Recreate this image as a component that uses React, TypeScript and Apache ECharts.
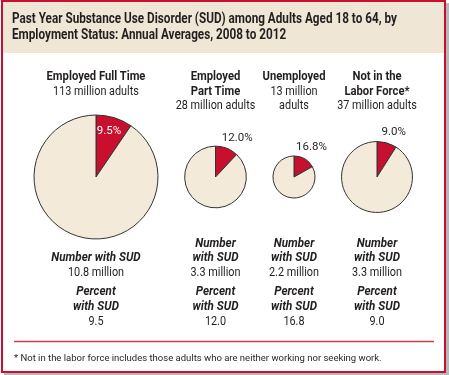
import React, { useEffect, useRef } from "react";
import * as echarts from "echarts";

// ---- data ----
const groups = ["Employed Full Time", "Employed Part Time", "Unemployed", "Not in the Labor Force"];
const headingLines = [
  ["Employed Full Time"],
  ["Employed", "Part Time"],
  ["Unemployed"],
  ["Not in the", "Labor Force*"],
];
const adultsLines = [
  ["113 million adults"],
  ["28 million adults"],
  ["13 million", "adults"],
  ["37 million adults"],
];
const adultsMillions = [113, 28, 13, 37];
const percentSUD = [9.5, 12.0, 16.8, 9.0];
const numberSUD = ["10.8 million", "3.3 million", "2.2 million", "3.3 million"];
const numberHeading = [["Number with SUD"], ["Number", "with SUD"], ["Number", "with SUD"], ["Number", "with SUD"]];
const percentHeading = ["Percent", "with SUD"];
const title = [
  "Past Year Substance Use Disorder (SUD) among Adults Aged 18 to 64, by",
  "Employment Status: Annual Averages, 2008 to 2012",
];
const footnote = "* Not in the labor force includes those adults who are neither working nor seeking work.";

// ---- style / layout ----
const W = 449;
const H = 375;
const RED = "#C8102E";
const BEIGE = "#F3EAD9";
const HEADER = "#EFE6D6";
const TEXT = "#231F20";
const FONT = "Roboto, 'Liberation Sans', sans-serif";
const colX = [96, 215.5, 294, 377];
const pieY = 177;
const radiusScale = 5.83; // px per sqrt(million)
const labelShift = [
  [3, -15],
  [-11.5, -8],
  [-15.5, -9.5],
  [-11.5, -8.5],
];

function textEl(text: string, x: number, y: number, opts: any = {}) {
  const sx = opts.sx || (opts.italic ? 0.93 : opts.bold ? 0.9 : 0.87);
  return {
    type: "text",
    x,
    y,
    scaleX: sx,
    style: {
      text,
      fill: opts.fill || TEXT,
      font: `${opts.italic ? "italic " : ""}${opts.bold ? "bold " : ""}${opts.size || 12.5}px ${FONT}`,
      textAlign: opts.align || "center",
      textVerticalAlign: "middle",
    },
  };
}

export default function App() {
  const ref = useRef<HTMLDivElement>(null);
  useEffect(() => {
    if (!ref.current) return;
    const chart = echarts.init(ref.current, null, { renderer: "svg" });
    const graphics: any[] = [];
    // shadow & frame
    graphics.push({ type: "rect", shape: { x: 4, y: 3, width: 445, height: 372 }, style: { fill: "#B5B9BB" }, z: -10 });
    graphics.push({ type: "rect", shape: { x: 2, y: 1, width: 443, height: 371 }, style: { fill: "#FFFFFF", stroke: RED, lineWidth: 2 }, z: -9 });
    graphics.push({ type: "rect", shape: { x: 3, y: 2, width: 441, height: 51 }, style: { fill: HEADER }, z: -8 });
    graphics.push(textEl(title[0], 12, 18.5, { bold: true, size: 14.5, align: "left", sx: 0.81 }));
    graphics.push(textEl(title[1], 12, 34.5, { bold: true, size: 14.5, align: "left", sx: 0.81 }));

    groups.forEach((_, i) => {
      const x = colX[i];
      const top: { t: string; bold: boolean }[] = [];
      headingLines[i].forEach((t) => top.push({ t, bold: true }));
      adultsLines[i].forEach((t) => top.push({ t, bold: false }));
      top.forEach((l, k) => graphics.push(textEl(l.t, x, 76 + k * 14.5, { bold: l.bold })));

      const nh = numberHeading[i];
      const startY = nh.length === 1 ? 257 : 242.5;
      nh.forEach((t, k) => graphics.push(textEl(t, x, startY + k * 14.5, { bold: true, italic: true })));
      graphics.push(textEl(numberSUD[i], x, 271.7));
      percentHeading.forEach((t, k) => graphics.push(textEl(t, x, 290.7 + k * 15, { bold: true, italic: true })));
      graphics.push(textEl(percentSUD[i].toFixed(1), x, 320.5));
    });

    graphics.push({ type: "line", shape: { x1: 14, y1: 341.5, x2: 434, y2: 341.5 }, style: { stroke: "#D23A55", lineWidth: 1.5 } });
    graphics.push(textEl(footnote, 14, 357.5, { size: 9.5, align: "left", sx: 1 }));

    const series = groups.map((name, i) => {
      const r = radiusScale * Math.sqrt(adultsMillions[i]);
      const inside = i === 0;
      return {
        type: "pie",
        name,
        center: [colX[i], pieY],
        radius: [0, r],
        startAngle: 90,
        clockwise: true,
        silent: true,
        itemStyle: { borderColor: "#333333", borderWidth: 1 },
        label: {
          show: true,
          position: inside ? "inside" : "outside",
          color: inside ? "#FFFFFF" : TEXT,
          fontFamily: FONT,
          fontSize: 11.5,
          formatter: (p: any) => (p.dataIndex === 0 ? `${percentSUD[i].toFixed(1)}%` : ""),
        },
        labelLine: { show: false, length: 4, length2: 0 },
        labelLayout: () => ({ dx: labelShift[i][0], dy: labelShift[i][1] }),
        data: [
          { value: percentSUD[i], name: "With SUD", itemStyle: { color: RED } },
          { value: 100 - percentSUD[i], name: "Without SUD", itemStyle: { color: BEIGE }, label: { show: false } },
        ],
      };
    });

    chart.setOption({
      animation: false,
      graphic: graphics,
      series,
    });
    return () => chart.dispose();
  }, []);
  return <div ref={ref} style={{ position: "fixed", left: 0, top: 0, width: W, height: H }} />;
}
